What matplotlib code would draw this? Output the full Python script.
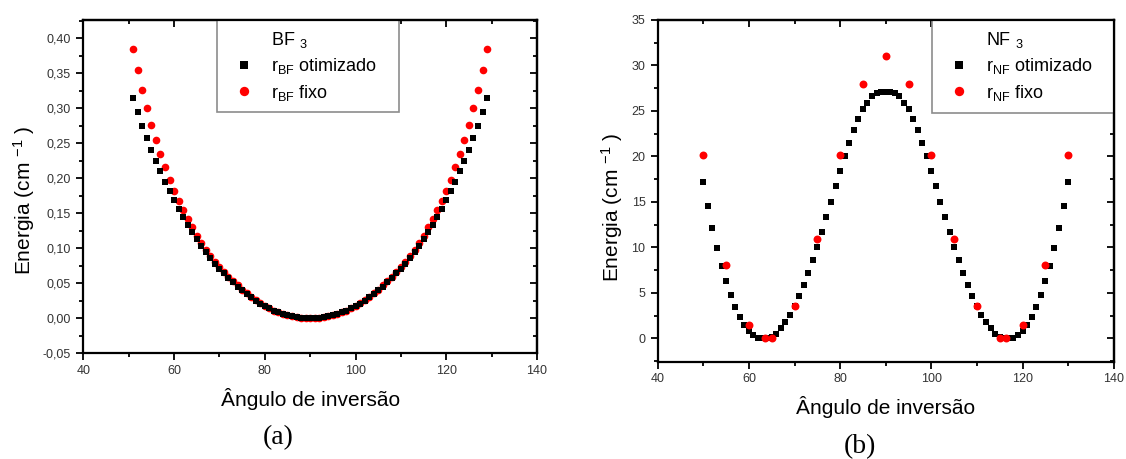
import matplotlib
matplotlib.use('Agg')
import matplotlib.pyplot as plt
import numpy as np
from matplotlib.ticker import MultipleLocator, FuncFormatter
from matplotlib.lines import Line2D

plt.rcParams['font.family'] = ['Liberation Sans', 'DejaVu Sans']
plt.rcParams['mathtext.fontset'] = 'custom'
plt.rcParams['mathtext.rm'] = 'Liberation Sans'
plt.rcParams['mathtext.it'] = 'Liberation Sans:italic'
plt.rcParams['mathtext.bf'] = 'Liberation Sans:bold'

# ---------------- data: (a) BF3 ----------------
bf3_angle = np.arange(51, 130, 1)
bf3_otimizado = [
    0.314, 0.294, 0.275, 0.258, 0.241, 0.225, 0.210, 0.195, 0.182, 0.169,
    0.156, 0.144, 0.133, 0.123, 0.113, 0.103, 0.095, 0.086, 0.078, 0.071,
    0.064, 0.058, 0.052, 0.045, 0.040, 0.035, 0.030, 0.025, 0.021, 0.018,
    0.014, 0.011, 0.009, 0.006, 0.004, 0.003, 0.002, 0.001, 0.000, 0.000,
    0.000, 0.001, 0.002, 0.003, 0.004, 0.006, 0.009, 0.011, 0.014,
    0.018, 0.021, 0.025, 0.030, 0.035, 0.040, 0.045, 0.052, 0.058, 0.064,
    0.071, 0.078, 0.086, 0.095, 0.103, 0.113, 0.123, 0.133, 0.144, 0.156,
    0.169, 0.182, 0.195, 0.210, 0.225, 0.241, 0.258, 0.275, 0.294, 0.314]
bf3_fixo = [
    0.385, 0.354, 0.326, 0.300, 0.276, 0.255, 0.234, 0.216, 0.198, 0.182,
    0.168, 0.154, 0.142, 0.130, 0.118, 0.107, 0.098, 0.089, 0.081, 0.073,
    0.066, 0.059, 0.053, 0.047, 0.041, 0.036, 0.031, 0.026, 0.022, 0.018,
    0.015, 0.011, 0.009, 0.006, 0.004, 0.003, 0.002, 0.001, 0.000, 0.000,
    0.000, 0.001, 0.002, 0.003, 0.004, 0.006, 0.009, 0.011, 0.015,
    0.018, 0.022, 0.026, 0.031, 0.036, 0.041, 0.047, 0.053, 0.059, 0.066,
    0.073, 0.081, 0.089, 0.098, 0.107, 0.118, 0.130, 0.142, 0.154, 0.168,
    0.182, 0.198, 0.216, 0.234, 0.255, 0.276, 0.300, 0.326, 0.354, 0.385]

# ---------------- data: (b) NF3 ----------------
nf3_angle = np.arange(50, 131, 1)
nf3_otimizado = [
    17.2, 14.6, 12.1, 9.9, 8.0, 6.3, 4.8, 3.5, 2.4, 1.5,
    0.8, 0.35, 0.1, 0.0, 0.0, 0.2, 0.5, 1.1, 1.8, 2.6,
    3.6, 4.7, 5.9, 7.2, 8.6, 10.1, 11.7, 13.3, 15.0, 16.7,
    18.4, 20.0, 21.5, 22.9, 24.1, 25.2, 25.9, 26.6, 27.0, 27.1,
    27.1,
    27.1, 27.0, 26.6, 25.9, 25.2, 24.1, 22.9, 21.5, 20.0, 18.4,
    16.7, 15.0, 13.3, 11.7, 10.1, 8.6, 7.2, 5.9, 4.7, 3.6,
    2.6, 1.8, 1.1, 0.5, 0.2, 0.0, 0.0, 0.1, 0.35, 0.8,
    1.5, 2.4, 3.5, 4.8, 6.3, 8.0, 9.9, 12.1, 14.6, 17.2]
nf3_fixo_angle = [50, 55, 60, 63.6, 65, 70, 75, 80, 85, 90,
                  95, 100, 105, 110, 115, 116.4, 120, 125, 130]
nf3_fixo = [20.2, 8.1, 1.5, 0.0, 0.1, 3.6, 10.9, 20.1, 28.0, 31.0,
            28.0, 20.1, 10.9, 3.6, 0.1, 0.0, 1.5, 8.1, 20.2]

x_label = "Ângulo de inversão"
y_label = "Energia (cm $^{-1}$ )"

RED = '#ff0000'
W, H = 1126, 459

fig = plt.figure(figsize=(W / 100, H / 100), dpi=100)
ax1 = fig.add_axes([83.3 / W, 1 - 353.3 / H, (537.0 - 83.3) / W, (353.3 - 19.6) / H])
ax2 = fig.add_axes([657.7 / W, 1 - 361.7 / H, (1113.7 - 657.7) / W, (361.7 - 19.8) / H])


def comma_fmt(v, pos):
    return f"{v:.2f}".replace('.', ',')


def style(ax, ymaj, ymin, yfmt):
    ax.set_xlim(40, 140)
    ax.xaxis.set_major_locator(MultipleLocator(20))
    ax.xaxis.set_minor_locator(MultipleLocator(10))
    ax.yaxis.set_major_locator(MultipleLocator(ymaj))
    ax.yaxis.set_minor_locator(MultipleLocator(ymin))
    if yfmt is not None:
        ax.yaxis.set_major_formatter(FuncFormatter(yfmt))
    for s in ax.spines.values():
        s.set_linewidth(1.6)
        s.set_zorder(6)
    ax.tick_params(which='both', direction='out', top=False, right=False,
                   width=1.3, labelsize=9, labelcolor='#333333', color='black')
    ax.tick_params(axis='x', which='major', length=5.2, pad=3.0)
    ax.tick_params(axis='y', which='major', length=5.2, pad=3.6)
    ax.tick_params(which='minor', length=3.0)
    secx = ax.secondary_xaxis('top')
    secx.xaxis.set_major_locator(MultipleLocator(20))
    secx.xaxis.set_minor_locator(MultipleLocator(10))
    secx.tick_params(which='both', direction='in', labeltop=False, width=1.3)
    secx.tick_params(which='major', length=5.2)
    secx.tick_params(which='minor', length=3.0)
    secx.spines['top'].set_linewidth(1.6)
    secy = ax.secondary_yaxis('right')
    secy.yaxis.set_major_locator(MultipleLocator(ymaj))
    secy.yaxis.set_minor_locator(MultipleLocator(ymin))
    secy.tick_params(which='both', direction='in', labelright=False, width=1.3)
    secy.tick_params(which='major', length=5.2)
    secy.tick_params(which='minor', length=3.0)
    secy.spines['right'].set_linewidth(1.6)


# ---------------- (a) ----------------
ax1.plot(bf3_angle, bf3_fixo, linestyle='none', marker='o', ms=5.5, mew=0,
         color=RED, zorder=3)
ax1.plot(bf3_angle, bf3_otimizado, linestyle='none', marker='s', ms=4.8, mew=0,
         color='black', zorder=4)
ax1.set_ylim(-0.05, 0.4265)
style(ax1, 0.05, 0.025, comma_fmt)

# ---------------- (b) ----------------
ax2.plot(nf3_angle, nf3_otimizado, linestyle='none', marker='s', ms=4.8, mew=0,
         color='black', zorder=3)
ax2.plot(nf3_fixo_angle, nf3_fixo, linestyle='none', marker='o', ms=5.7, mew=0,
         color=RED, zorder=4)
ax2.set_ylim(-2.55, 35)
style(ax2, 5, 2.5, None)


def add_legend(ax, title, lab1, lab2, x0, w):
    h0 = Line2D([], [], linestyle='none', marker=None)
    h1 = Line2D([], [], linestyle='none', marker='s', ms=4.8, mew=0, color='black')
    h2 = Line2D([], [], linestyle='none', marker='o', ms=5.4, mew=0, color=RED)
    leg = ax.legend([h0, h1, h2], [title, lab1, lab2], loc='upper left',
                    bbox_to_anchor=(x0, 0.0, w, 1.0),
                    mode='expand', borderaxespad=0, fontsize=13,
                    borderpad=0.55, labelspacing=0.36, handlelength=1.9,
                    handletextpad=0.55, markerscale=1.25, fancybox=False,
                    framealpha=1, edgecolor='#8c8c8c', facecolor='white')
    leg.get_frame().set_linewidth(1.2)
    leg.set_zorder(5)
    return leg


add_legend(ax1, "BF $_3$", r"r$_{\mathrm{BF}}$ otimizado", r"r$_{\mathrm{BF}}$ fixo", 0.294, 0.401)
add_legend(ax2, "NF $_3$", r"r$_{\mathrm{NF}}$ otimizado", r"r$_{\mathrm{NF}}$ fixo", 0.601, 0.399)

# axis labels
for ax, xl_y, yl_x, yl_y in [(ax1, -0.137, -0.13, 0.459), (ax2, -0.1316, -0.100, 0.45)]:
    ax.set_xlabel(x_label, fontsize=15)
    ax.xaxis.label.set_va('center')
    ax.xaxis.set_label_coords(0.5, xl_y)
    ax.set_ylabel(y_label, fontsize=15)
    ax.yaxis.label.set_va('center')
    ax.yaxis.set_label_coords(yl_x, yl_y)

fig.text(278 / W, 1 - 438 / H, "(a)", fontfamily=['Liberation Serif', 'DejaVu Serif'],
         fontsize=20, ha='center', va='center')
fig.text(860 / W, 1 - 447 / H, "(b)", fontfamily=['Liberation Serif', 'DejaVu Serif'],
         fontsize=20, ha='center', va='center')

fig.savefig('out.png', dpi=100)
